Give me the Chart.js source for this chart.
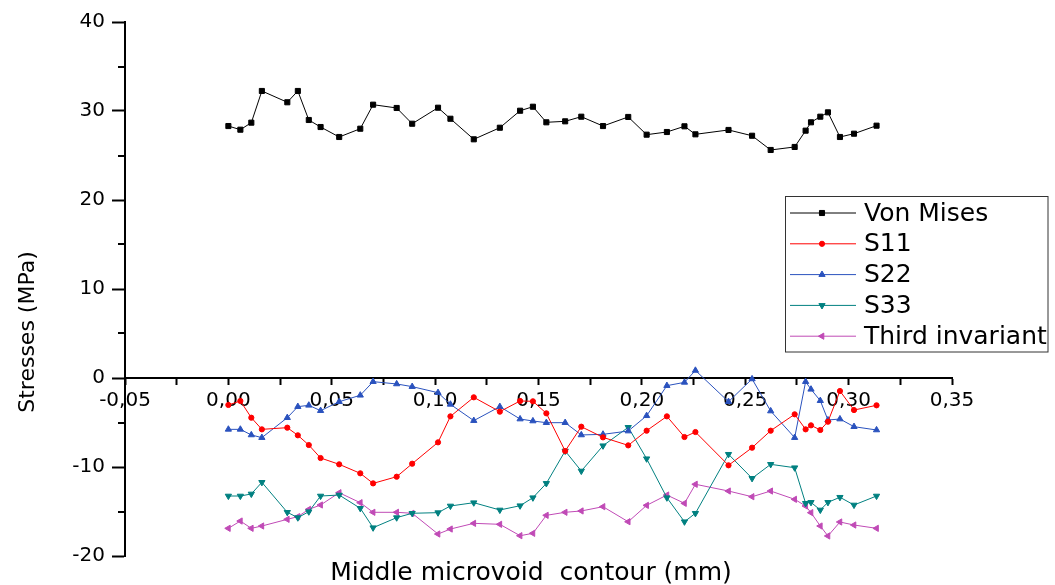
<!DOCTYPE html>
<html>
<head>
<meta charset="utf-8">
<script src="https://cdn.jsdelivr.net/npm/chart.js@4/dist/chart.umd.min.js"></script>
<style>
  html, body { margin: 0; padding: 0; background: #fff; }
  canvas { display: block; }
</style>
</head>
<body>
<canvas id="myChart" width="1055" height="585"></canvas>
<script>
// positions along the contour (mm), shared by every series
const contour = [0.000, 0.0058, 0.0111, 0.0162, 0.0285, 0.0336, 0.0389, 0.0446, 0.0536, 0.0638,
    0.0700, 0.0814, 0.0889, 0.1014, 0.1074, 0.1187, 0.1313, 0.1411, 0.1473, 0.1538,
    0.1629, 0.1707, 0.1812, 0.1934, 0.2023, 0.2121, 0.2206, 0.2259, 0.2419, 0.2533,
    0.2623, 0.2739, 0.2792, 0.2818, 0.2863, 0.2900, 0.2958, 0.3026, 0.3135];

const vonMises = [28.31, 27.90, 28.69, 32.25, 30.98, 32.25, 28.99, 28.20, 27.08, 28.01,
    30.71, 30.34, 28.57, 30.37, 29.13, 26.82, 28.12, 30.03, 30.48, 28.73,
    28.84, 29.36, 28.31, 29.33, 27.34, 27.64, 28.28, 27.38, 27.87, 27.22,
    25.62, 25.96, 27.79, 28.73, 29.36, 29.85, 27.08, 27.45, 28.35];

const s11 = [-3.03, -2.58, -4.46, -5.77, -5.58, -6.44, -7.53, -8.99, -9.70, -10.71,
    -11.84, -11.09, -9.63, -7.23, -4.31, -2.17, -3.78, -2.58, -2.62, -3.97,
    -8.20, -5.47, -6.67, -7.57, -5.92, -4.31, -6.63, -6.07, -9.81, -7.83,
    -5.92, -4.08, -5.77, -5.32, -5.84, -4.91, -1.46, -3.60, -3.07];

const s22 = [-5.77, -5.77, -6.40, -6.70, -4.46, -3.22, -3.07, -3.67, -2.66, -1.94,
    -0.41, -0.67, -0.97, -1.65, -2.96, -4.79, -3.22, -4.61, -4.83, -5.02,
    -5.02, -6.40, -6.33, -5.96, -4.24, -0.86, -0.49, 0.85, -2.66, -0.11,
    -3.71, -6.70, -0.41, -1.27, -2.55, -4.72, -4.61, -5.47, -5.84];

const s33 = [-13.26, -13.26, -13.03, -11.72, -15.09, -15.69, -15.02, -13.26, -13.15, -14.64,
    -16.82, -15.69, -15.20, -15.13, -14.38, -14.01, -14.83, -14.35, -13.45, -11.84,
    -8.20, -10.45, -7.61, -5.54, -9.07, -13.45, -16.15, -15.20, -8.57, -11.27,
    -9.70, -10.08, -14.08, -13.97, -14.83, -13.97, -13.40, -14.27, -13.26];

const thirdInvariant = [-16.89, -16.07, -16.89, -16.63, -15.88, -15.58, -14.76, -14.27, -12.89, -14.01,
    -15.09, -15.09, -15.20, -17.53, -16.97, -16.33, -16.44, -17.72, -17.45, -15.43,
    -15.09, -14.94, -14.46, -16.15, -14.31, -13.15, -14.08, -11.94, -12.70, -13.34,
    -12.70, -13.63, -14.38, -15.13, -16.63, -17.75, -16.18, -16.52, -16.89];

const seriesNames = ['Von Mises', 'S11', 'S22', 'S33', 'Third invariant'];
const xTitle = 'Middle microvoid  contour (mm)';
const yTitle = 'Stresses (MPa)';

const FONT = '"DejaVu Sans", "Liberation Sans", Arial, sans-serif';

function pts(values) {
    return values.map((v, i) => ({ x: contour[i], y: v }));
}

function series(label, values, color, style, radius, rotation) {
    return {
        label: label,
        data: pts(values),
        borderColor: color,
        backgroundColor: color,
        borderWidth: 1,
        pointStyle: style,
        pointRadius: radius,
        pointRotation: rotation,
        pointBorderWidth: 1,
        tension: 0,
        fill: false
    };
}

// x ticks every 0,025 but labels only every 0,05, with a decimal comma
function xLabel(v) {
    if (Math.round(v * 1000) % 50 !== 0) return '';
    const r = Math.round(v * 100) / 100;
    return (r === 0 ? 0 : r).toFixed(2).replace('.', ',');
}

// legend box, minor y ticks and the two axis titles
const extras = {
    id: 'extras',
    afterDraw(chart) {
        const ctx = chart.ctx;
        const yScale = chart.scales.y;
        const left = chart.chartArea.left;
        ctx.save();

        // minor ticks on the y axis
        ctx.strokeStyle = '#000';
        ctx.lineWidth = 2;
        for (let v = yScale.min + 5; v < yScale.max; v += 10) {
            const py = Math.round(yScale.getPixelForValue(v));
            ctx.beginPath();
            ctx.moveTo(left - 7, py);
            ctx.lineTo(left, py);
            ctx.stroke();
        }

        // axis titles
        ctx.fillStyle = '#000';
        ctx.textAlign = 'center';
        ctx.textBaseline = 'middle';
        ctx.font = '25px ' + FONT;
        ctx.fillText(xTitle, 531, 573);

        ctx.save();
        ctx.translate(28, 332);
        ctx.rotate(-Math.PI / 2);
        ctx.font = '22px ' + FONT;
        ctx.fillText(yTitle, 0, 0);
        ctx.restore();

        // legend
        ctx.fillStyle = '#fff';
        ctx.fillRect(785.5, 196.5, 262.5, 155.5);
        ctx.strokeStyle = '#333';
        ctx.lineWidth = 1;
        ctx.strokeRect(785.5, 196.5, 262.5, 155.5);
        ctx.font = '25px ' + FONT;
        ctx.textAlign = 'left';
        ctx.textBaseline = 'middle';
        chart.data.datasets.forEach((ds, i) => {
            const ly = 213 + i * 30.8;
            ctx.strokeStyle = ds.borderColor;
            ctx.lineWidth = 1;
            ctx.beginPath();
            ctx.moveTo(790, ly);
            ctx.lineTo(856, ly);
            ctx.stroke();
            ctx.fillStyle = ds.backgroundColor;
            Chart.helpers.drawPoint(ctx, {
                pointStyle: ds.pointStyle,
                radius: ds.pointRadius,
                rotation: ds.pointRotation,
                borderWidth: 1
            }, 822, ly);
            ctx.fillStyle = '#000';
            ctx.fillText(ds.label, 864, ly + 1);
        });
        ctx.restore();
    }
};

const ctx = document.getElementById('myChart');
new Chart(ctx, {
    type: 'line',
    data: {
        datasets: [
            series(seriesNames[0], vonMises, '#000000', 'rect', 3.6, 0),
            series(seriesNames[1], s11, '#ff0000', 'circle', 2.6, 0),
            series(seriesNames[2], s22, '#2a52be', 'triangle', 3.6, 0),
            series(seriesNames[3], s33, '#008080', 'triangle', 3.6, 180),
            series(seriesNames[4], thirdInvariant, '#c04ab6', 'triangle', 3.6, 270)
        ]
    },
    options: {
        responsive: false,
        animation: false,
        devicePixelRatio: 1,
        layout: { padding: { top: 22, right: 103, left: 0, bottom: 29 } },
        plugins: {
            legend: { display: false },
            tooltip: { enabled: false }
        },
        scales: {
            x: {
                type: 'linear',
                position: { y: 0 },
                min: -0.05,
                max: 0.35,
                border: { color: '#000', width: 2 },
                grid: { drawOnChartArea: false, drawTicks: true, tickLength: 6, tickColor: '#000', tickWidth: 2 },
                ticks: {
                    stepSize: 0.025,
                    autoSkip: false,
                    maxRotation: 0,
                    padding: 5,
                    color: '#000',
                    font: { family: FONT, size: 20 },
                    callback: xLabel
                }
            },
            y: {
                type: 'linear',
                position: 'left',
                min: -20,
                max: 40,
                border: { color: '#000', width: 2 },
                grid: { drawOnChartArea: false, drawTicks: true, tickLength: 13, tickColor: '#000', tickWidth: 2 },
                ticks: {
                    stepSize: 10,
                    padding: 7,
                    color: '#000',
                    font: { family: FONT, size: 20 }
                },
                afterFit: scale => { scale.width = 125; }
            }
        }
    },
    plugins: [extras]
});
</script>
</body>
</html>
